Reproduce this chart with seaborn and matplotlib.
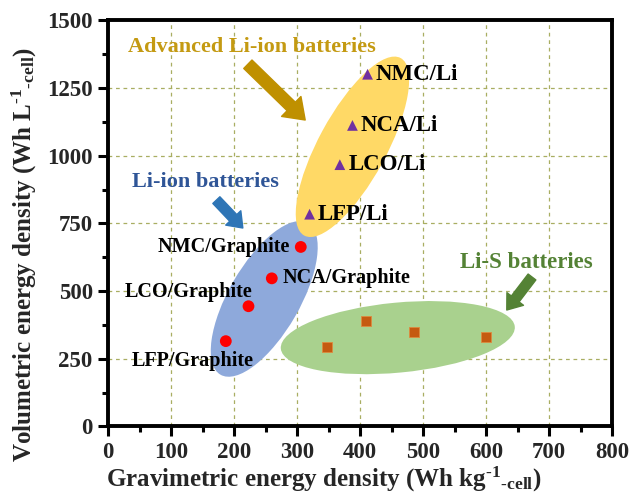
import numpy as np
import pandas as pd
import matplotlib
matplotlib.use("Agg")
import matplotlib.pyplot as plt
import seaborn as sns
from matplotlib.patches import Ellipse
from matplotlib.transforms import ScaledTranslation
from matplotlib.ticker import MultipleLocator

# ---------------- data ----------------
graphite_names = ["NMC/Graphite", "NCA/Graphite", "LCO/Graphite", "LFP/Graphite"]
graphite_grav = [306, 260, 223, 187]
graphite_vol = [663, 547, 444, 315]

li_names = ["NMC/Li", "NCA/Li", "LCO/Li", "LFP/Li"]
li_grav = [412, 388, 368, 320]
li_vol = [1301, 1112, 967, 784]

lis_grav = [347, 410, 486, 600]
lis_vol = [294, 389, 350, 329]

x_ticks = [0, 100, 200, 300, 400, 500, 600, 700, 800]
y_ticks = [0, 250, 500, 750, 1000, 1250, 1500]

# ---------------- style ----------------
sns.set_theme(style="ticks")
plt.rcParams["font.family"] = ["Liberation Serif", "DejaVu Serif"]
plt.rcParams["font.weight"] = "bold"
plt.rcParams["mathtext.fontset"] = "custom"
plt.rcParams["mathtext.rm"] = "Liberation Serif:bold"
plt.rcParams["mathtext.bf"] = "Liberation Serif:bold"
plt.rcParams["mathtext.default"] = "bf"

fig = plt.figure(figsize=(6.3, 4.94), dpi=100)
ax = fig.add_axes([108 / 630, 1 - 426.4 / 494, 504 / 630, 406 / 494])
ax.set_xlim(x_ticks[0], x_ticks[-1])
ax.set_ylim(y_ticks[0], y_ticks[-1])

# ---------------- ellipses (sized in inches, centred in data coords) ----------------
def add_ellipse(cx, cy, w, h, angle, color, z):
    tr = fig.dpi_scale_trans + ScaledTranslation(cx, cy, ax.transData)
    e = Ellipse((0, 0), w, h, angle=angle, transform=tr, facecolor=color,
                edgecolor="none", zorder=z)
    ax.add_patch(e)

add_ellipse(248, 471, 1.75, 0.71, 60, "#8EA9DB", 1)
add_ellipse(460, 328, 2.35, 0.70, 5.4, "#A9D18E", 1.1)
add_ellipse(388, 1033, 2.02, 0.68, 61.5, "#FFD966", 1.2)

# ---------------- grid ----------------
for xv in x_ticks[1:-1]:
    ax.axvline(xv, color="#A9AE62", lw=0.9, ls=(0, (3, 3)), zorder=0.5)
for yv in y_ticks[1:-1]:
    ax.axhline(yv, color="#A9AE62", lw=0.9, ls=(0, (3, 3)), zorder=0.5)

# ---------------- points ----------------
df_g = pd.DataFrame({"x": graphite_grav, "y": graphite_vol, "name": graphite_names})
df_l = pd.DataFrame({"x": li_grav, "y": li_vol, "name": li_names})
df_s = pd.DataFrame({"x": lis_grav, "y": lis_vol})

sns.scatterplot(data=df_g, x="x", y="y", ax=ax, marker="o", s=72, color="#FF0000",
                edgecolor="none", zorder=5, legend=False)
sns.scatterplot(data=df_l, x="x", y="y", ax=ax, marker="^", s=60, color="#7030A0",
                edgecolor="none", zorder=5, legend=False)
sns.scatterplot(data=df_s, x="x", y="y", ax=ax, marker="s", s=58, color="#C55A11",
                edgecolor="#DE8A3E", linewidth=0.6, zorder=5, legend=False)

# ---------------- point labels ----------------
lab_kw = dict(fontweight="bold", color="black", zorder=6, va="center")
g_offsets = [(-8, 0, "right"), (8, 0, "left"), (3, 10, "right"), (20, -14, "right")]
for (n, x, y), (dx, dy, ha) in zip(zip(graphite_names, graphite_grav, graphite_vol), g_offsets):
    ax.annotate(n, (x, y), xytext=(dx, dy), textcoords="offset points", ha=ha,
                fontsize=14.5, **lab_kw)
for n, x, y in zip(li_names, li_grav, li_vol):
    ax.annotate(n, (x, y), xytext=(6, 0), textcoords="offset points", ha="left",
                fontsize=16.5, **lab_kw)

# ---------------- group titles & arrows ----------------
ax.text(228.6, 1401, "Advanced Li-ion batteries", color="#C49A12", fontsize=16,
        fontweight="bold", ha="center", va="center", zorder=7)
ax.text(154, 902, "Li-ion batteries", color="#2F5597", fontsize=16,
        fontweight="bold", ha="center", va="center", zorder=7)
ax.text(664, 607, "Li-S batteries", color="#548235", fontsize=16.5,
        fontweight="bold", ha="center", va="center", zorder=7)

def arrow(tail, tip, color, tw, hw, hl):
    ax.annotate("", xy=tip, xytext=tail,
                arrowprops=dict(arrowstyle=f"simple,head_width={hw},head_length={hl},tail_width={tw}",
                                color=color, shrinkA=0, shrinkB=0, mutation_scale=10),
                zorder=7)

arrow((222, 1338), (313, 1132), "#BF9000", 0.85, 2.0, 1.4)
arrow((172, 836), (214, 733), "#2E75B6", 0.7, 1.5, 1.0)
arrow((673, 552), (633, 430), "#548235", 0.7, 1.5, 1.0)

# ---------------- axes styling ----------------
ax.set_xticks(x_ticks)
ax.set_yticks(y_ticks)
ax.set_xticklabels([str(v) for v in x_ticks])
ax.set_yticklabels([str(v) for v in y_ticks])
ax.xaxis.set_minor_locator(MultipleLocator(50))
ax.yaxis.set_minor_locator(MultipleLocator(125))
ax.tick_params(which="major", direction="out", length=7, width=2.2, color="black",
               labelsize=16.5, pad=4, top=False, right=False)
ax.tick_params(which="minor", direction="out", length=4.5, width=2.2, color="black",
               top=False, right=False)
for lab in ax.get_xticklabels() + ax.get_yticklabels():
    lab.set_fontweight("bold")
for sp in ax.spines.values():
    sp.set_visible(True)
    sp.set_linewidth(2.8)
    sp.set_color("black")

ax.set_xlabel(r"Gravimetric energy density (Wh kg$^{\text{-1}}$$_{\text{-cell}}$)",
              fontsize=18, fontweight="bold")
ax.set_ylabel(r"Volumetric energy density (Wh L$^{\text{-1}}$$_{\text{-cell}}$)",
              fontsize=18, fontweight="bold")
ax.xaxis.set_label_coords(0.429, -0.095)
ax.yaxis.set_label_coords(-0.137, 0.422)

fig.savefig("out.png", dpi=100)
